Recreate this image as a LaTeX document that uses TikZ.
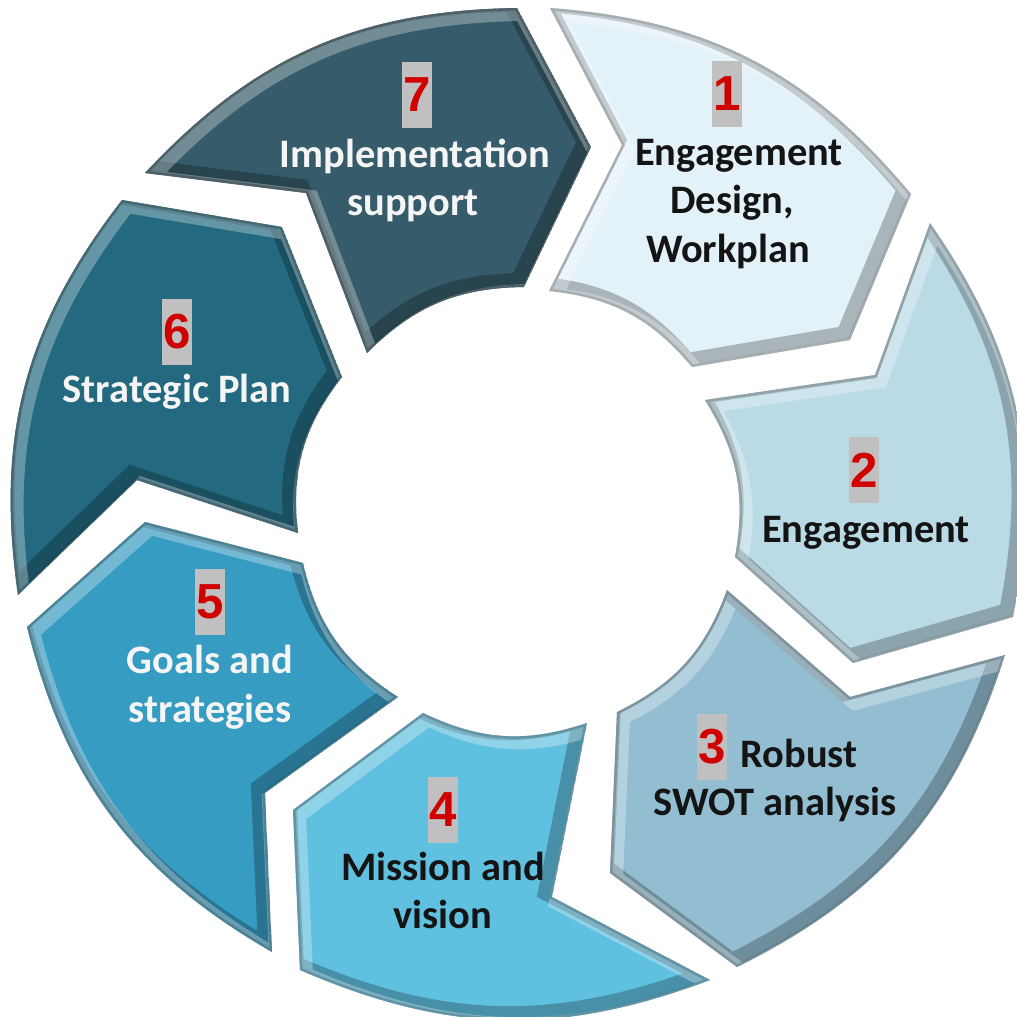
\documentclass[tikz,border=0pt]{standalone}
\usepackage{fontspec}
\setmainfont{Carlito}
\newfontfamily\numfont{Liberation Sans}
\usetikzlibrary{positioning}
\definecolor{segone}{HTML}{E3F1F8}
\definecolor{segtwo}{HTML}{BADBE6}
\definecolor{segthree}{HTML}{93BED1}
\definecolor{segfour}{HTML}{60C0E0}
\definecolor{segfive}{HTML}{379CC1}
\definecolor{segsix}{HTML}{236A80}
\definecolor{segseven}{HTML}{365B6A}
\definecolor{numred}{HTML}{D00000}
\definecolor{numgray}{HTML}{C0C0C0}
\tikzset{numbox/.style={fill=numgray,text=numred,minimum width=0.3cm,minimum height=0.66cm,inner sep=0pt,font=\numfont\bfseries\fontsize{14}{14}\selectfont},
darklabel/.style={anchor=base,inner sep=0pt,text=black!92,font=\bfseries\fontsize{11.5}{13.8}\selectfont},
lightlabel/.style={darklabel,text=white!96!black}}
% one bevelled arrow segment: colour, path
\newcommand{\drawseg}[2]{%
  \begin{scope}
    \clip #2;
    \fill[#1] #2;
    \draw[line width=0.18cm,#1!45!black,opacity=.45,xshift=-0.05cm,yshift=0.05cm] #2;
    \draw[line width=0.16cm,white,opacity=.3,xshift=0.05cm,yshift=-0.05cm] #2;
    \draw[line width=0.05cm,#1!50!black,opacity=.35] #2;
  \end{scope}}

\begin{document}
\begin{tikzpicture}[x=0.01cm,y=0.01cm]
    \useasboundingbox (0,0) rectangle (1017,-1017);

    \drawseg{segone}{(550,-8) to[bend left=23] (911,-194) -- (850,-340) -- (692,-367) to[bend right=22] (549,-291) -- (622,-145) -- cycle}
    \drawseg{segtwo}{(930,-223) to[bend left=23] (1013,-617) -- (853,-663) -- (735,-557) to[bend right=21] (705,-400) -- (875,-375) -- cycle}
    \drawseg{segthree}{(1005,-655) to[bend left=23] (737,-967) -- (610,-873) -- (617,-712) to[bend right=22] (727,-590) -- (850,-697) -- cycle}
    \drawseg{segfour}{(710,-980) to[bend left=22] (300,-970) -- (293,-810) -- (423,-713) to[bend right=22] (587,-723) -- (552,-897) -- cycle}
    \drawseg{segfive}{(272,-952) to[bend left=23] (27,-627) -- (145,-522) -- (303,-563) to[bend right=22] (398,-697) -- (265,-793) -- cycle}
    \drawseg{segsix}{(18,-595) to[bend left=23] (122,-200) -- (282,-227) -- (342,-377) to[bend right=22] (298,-533) -- (137,-480) -- cycle}
    \drawseg{segseven}{(145,-173) to[bend left=23] (517,-8) -- (591,-147) -- (524,-287) to[bend right=22] (367,-353) -- (306,-193) -- cycle}

    % numbers
    \node[numbox] (n1) at (727,-94) {1};
    \node[numbox] (n2) at (864,-470) {2};
    \node[numbox] (n3) at (712,-747) {3};
    \node[numbox] (n4) at (443,-810) {4};
    \node[numbox] (n5) at (210,-602) {5};
    \node[numbox] (n6) at (177,-332) {6};
    \node[numbox] (n7) at (417,-95) {7};

    % labels
    \node[darklabel] (l1a) at (739,-165) {Engagement};
    \node[darklabel] (l1b) at (732,-213) {Design,};
    \node[darklabel] (l1c) at (728,-262) {Workplan};
    \node[darklabel] (l2) at (866,-542) {Engagement};
    \node[darklabel,anchor=base west] (l3a) at (740,-767) {Robust};
    \node[darklabel] (l3b) at (775,-815) {SWOT analysis};
    \node[darklabel] (l4a) at (443,-880) {Mission and};
    \node[darklabel] (l4b) at (443,-928) {vision};
    \node[lightlabel] (l5a) at (210,-673) {Goals and};
    \node[lightlabel] (l5b) at (210,-722) {strategies};
    \node[lightlabel] (l6) at (177,-402) {Strategic Plan};
    \node[lightlabel] (l7a) at (415,-167) {Implementation};
    \node[lightlabel] (l7b) at (413,-215) {support};
\end{tikzpicture}
\end{document}
